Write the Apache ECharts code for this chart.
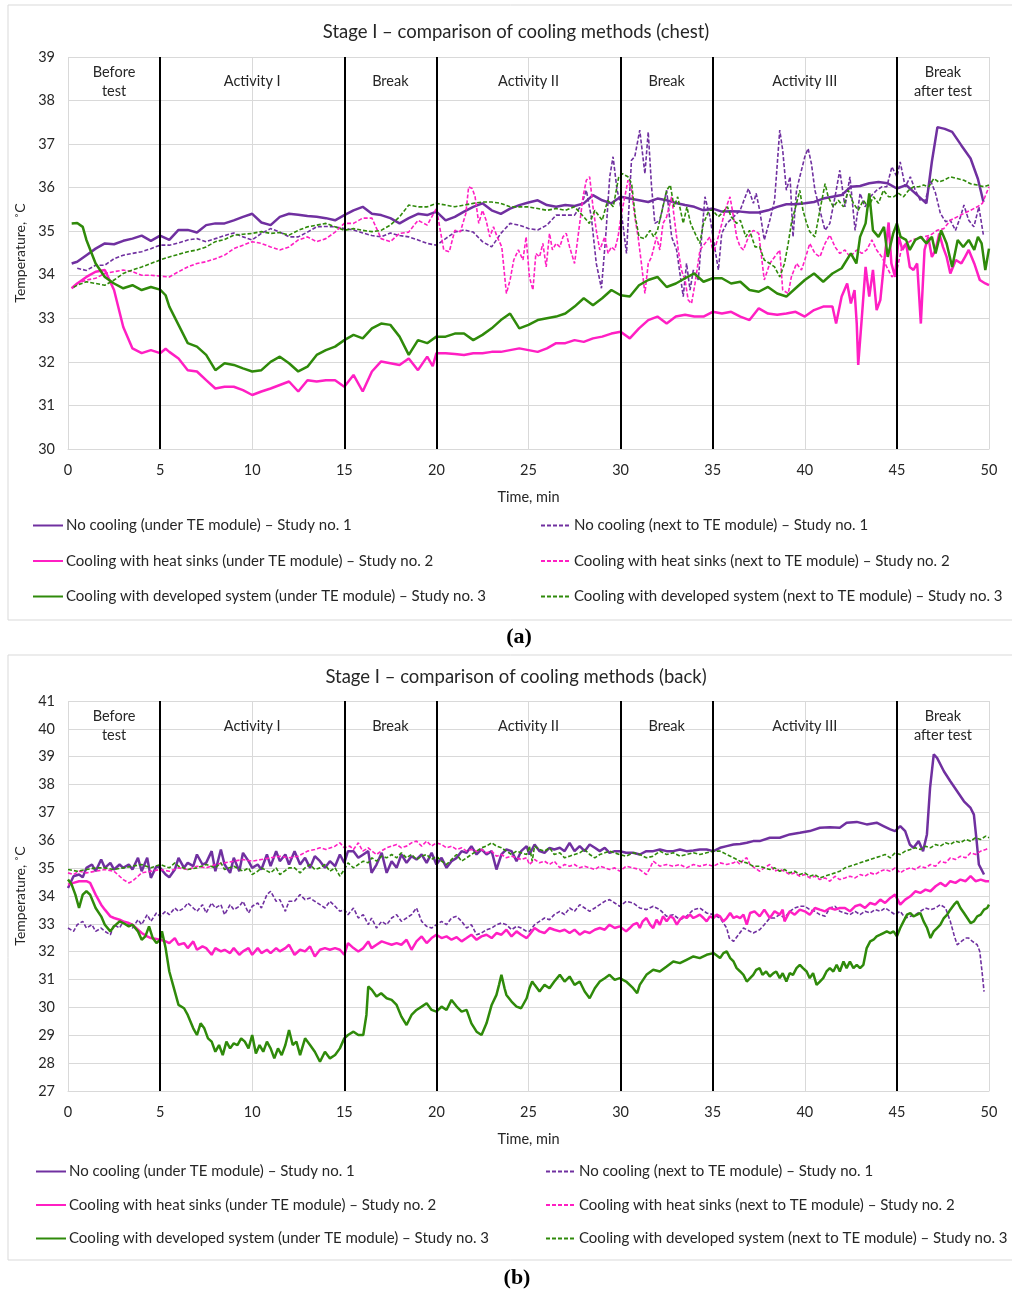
<!DOCTYPE html>
<html>
<head>
<meta charset="utf-8">
<script src="https://cdn.jsdelivr.net/npm/echarts@6/dist/echarts.min.js"></script>
<style>
  html, body { margin: 0; padding: 0; background: #fff; }
  #chart { width: 1012px; height: 1290px; }
</style>
</head>
<body>
<div id="chart"></div>
<script>
// series names
const namesUnder = [
  'No cooling (under TE module) – Study no. 1',
  'Cooling with heat sinks (under TE module) – Study no. 2',
  'Cooling with developed system (under TE module) – Study no. 3'
]
const namesNext = [
  'No cooling (next to TE module) – Study no. 1',
  'Cooling with heat sinks (next to TE module) – Study no. 2',
  'Cooling with developed system (next to TE module) – Study no. 3'
]
const phaseLabels = ['Before\ntest', 'Activity I', 'Break', 'Activity II', 'Break', 'Activity III', 'Break\nafter test']
const phaseBounds = [0, 5, 15, 20, 30, 35, 45, 50]

// (a) chest – [time min, temperature °C]
const chestNoCoolUnder = [[0.2,34.26],[0.5,34.3],[1,34.45],[1.5,34.6],[2,34.72],[2.5,34.7],[3,34.78],[3.5,34.83],[4,34.9],[4.5,34.78],[5,34.9],[5.5,34.8],[6,35.03],[6.5,35.03],[7,34.97],[7.5,35.14],[8,35.18],[8.5,35.18],[9,35.25],[9.5,35.33],[10,35.4],[10.5,35.2],[11,35.14],[11.5,35.33],[12,35.4],[12.5,35.38],[13,35.35],[13.5,35.33],[14,35.3],[14.5,35.25],[15,35.37],[15.5,35.48],[16,35.56],[16.5,35.4],[17,35.37],[17.5,35.3],[18,35.18],[18.5,35.3],[19,35.4],[19.5,35.37],[20,35.45],[20.5,35.25],[21,35.33],[21.5,35.45],[22,35.56],[22.5,35.64],[23,35.48],[23.5,35.4],[24,35.52],[24.5,35.6],[25,35.66],[25.5,35.71],[26,35.6],[26.5,35.56],[27,35.6],[27.5,35.58],[28,35.64],[28.5,35.83],[29,35.71],[29.5,35.64],[30,35.79],[30.5,35.75],[31,35.71],[31.5,35.67],[32,35.75],[32.5,35.71],[33,35.65],[33.5,35.6],[34,35.56],[34.5,35.48],[35,35.52],[35.5,35.45],[36,35.46],[36.5,35.45],[37,35.43],[37.5,35.43],[38,35.48],[38.5,35.56],[39,35.62],[39.5,35.62],[40,35.64],[40.5,35.67],[41,35.75],[41.5,35.79],[42,35.83],[42.5,36.02],[43,36.04],[43.5,36.1],[44,36.13],[44.5,36.1],[45,35.98],[45.5,36.06],[46,35.87],[46.6,35.64],[46.9,36.6],[47.2,37.39],[47.6,37.35],[48,37.28],[48.5,36.97],[49,36.67],[49.4,36.2],[49.7,35.67]]
const chestNoCoolNext = [[0.5,34.15],[1,34.1],[1.5,34.22],[2,34.22],[2.5,34.37],[3,34.45],[3.5,34.49],[4,34.53],[4.5,34.6],[5,34.68],[5.5,34.68],[6,34.73],[6.5,34.8],[7,34.83],[7.5,34.76],[8,34.83],[8.5,34.9],[9,34.96],[9.5,34.87],[10,34.8],[10.5,34.95],[11,35.06],[11.5,34.98],[12,34.87],[12.5,34.87],[13,34.98],[13.5,35.1],[14,35.11],[14.5,35.1],[15,35.06],[15.5,35.03],[16,34.96],[16.5,34.9],[17,34.87],[17.5,34.96],[18,34.9],[18.5,34.87],[19,34.8],[19.5,34.72],[20,34.68],[20.5,34.83],[21,34.98],[21.5,35.03],[22,34.98],[22.5,34.76],[23,34.64],[23.5,34.95],[24,35.18],[24.5,35.14],[25,35.06],[25.5,35.03],[26,35.14],[26.5,35.37],[27,35.37],[27.5,35.37],[27.87,35.6],[28.14,35.94],[28.41,35.33],[28.68,34.26],[28.96,33.69],[29.19,34.87],[29.41,36.25],[29.59,36.71],[29.81,35.94],[29.95,35.71],[30.14,35.1],[30.32,34.49],[30.59,36.63],[30.77,36.71],[31.04,37.32],[31.32,36.32],[31.5,37.28],[31.68,36.02],[31.86,35.18],[32.13,35.25],[32.5,35.94],[32.77,34.87],[33.04,34.57],[33.4,33.5],[33.58,34.26],[33.77,33.65],[33.95,34.11],[34.22,33.88],[34.4,34.87],[34.58,35.79],[34.85,35.33],[35.13,34.57],[35.31,34.11],[35.49,34.95],[35.76,35.18],[36.13,35.33],[36.49,35.48],[36.94,35.98],[37.21,35.64],[37.36,35.87],[37.55,35.48],[37.8,34.8],[38.1,35.25],[38.36,35.71],[38.64,37.32],[38.8,36.86],[39,35.94],[39.2,36.25],[39.36,34.87],[39.55,35.94],[39.73,36.25],[40,36.71],[40.18,36.9],[40.36,36.55],[40.55,35.94],[40.82,35.48],[41.1,35.02],[41.36,35.18],[41.64,35.79],[41.9,36.4],[42.18,35.56],[42.45,36.25],[42.73,35.02],[43,35.87],[43.27,35.56],[43.55,35.79],[43.9,35.94],[44.18,36.02],[44.45,36.02],[44.73,36.48],[45,36.25],[45.18,36.59],[45.45,36.02],[45.73,36.25],[46,35.94],[46.27,35.71],[46.55,35.71],[46.82,36.17],[47.1,35.87],[47.36,35.41],[47.64,35.22],[47.9,35.25],[48.18,35.02],[48.45,35.33],[48.64,35.6],[48.9,35.25],[49.18,35.1],[49.45,35.56],[49.7,34.9]]
const chestSinkUnder = [[0.2,33.69],[0.5,33.8],[1,33.95],[1.5,34.07],[2,34.11],[2.5,33.65],[3,32.8],[3.5,32.31],[4,32.2],[4.5,32.27],[5,32.2],[5.3,32.3],[5.5,32.23],[6,32.08],[6.5,31.81],[7,31.78],[7.5,31.58],[8,31.39],[8.5,31.43],[9,31.43],[9.5,31.35],[10,31.24],[10.5,31.32],[11,31.39],[11.5,31.47],[12,31.55],[12.5,31.32],[13,31.58],[13.5,31.55],[14,31.58],[14.5,31.58],[15,31.43],[15.5,31.7],[16,31.32],[16.5,31.78],[17,32.01],[17.5,31.97],[18,31.93],[18.5,32.08],[19,31.81],[19.5,32.12],[19.8,31.9],[20,32.2],[20.5,32.2],[21,32.18],[21.5,32.16],[22,32.2],[22.5,32.2],[23,32.23],[23.5,32.23],[24,32.27],[24.5,32.31],[25,32.27],[25.5,32.23],[26,32.31],[26.5,32.43],[27,32.43],[27.5,32.5],[28,32.46],[28.5,32.54],[29,32.58],[29.5,32.65],[30,32.69],[30.5,32.54],[31,32.77],[31.5,32.96],[32,33.04],[32.5,32.88],[33,33.04],[33.5,33.08],[34,33.04],[34.5,33.04],[35,33.15],[35.5,33.11],[36,33.15],[36.5,33.04],[37,32.96],[37.5,33.23],[38,33.11],[38.5,33.08],[39,33.11],[39.5,33.15],[40,33.04],[40.5,33.19],[41,33.27],[41.5,33.27],[41.7,32.88],[42,33.5],[42.3,33.8],[42.5,33.34],[42.7,33.65],[42.82,32.88],[42.9,31.93],[43.1,33.04],[43.3,34.18],[43.5,33.5],[43.7,34.11],[43.9,33.19],[44.1,33.42],[44.3,34.26],[44.55,35.2],[44.7,34.26],[44.9,33.95],[45,34.41],[45.1,34.87],[45.3,34.57],[45.5,34.72],[45.7,34.18],[45.9,34.11],[46.1,34.26],[46.3,32.88],[46.5,34.57],[46.7,34.87],[46.9,34.41],[47.1,34.57],[47.3,34.95],[47.5,34.64],[47.7,34.41],[47.9,34.03],[48.2,34.34],[48.5,34.26],[48.7,34.41],[48.9,34.57],[49.2,34.26],[49.5,33.88],[49.8,33.8],[50,33.76]]
const chestSinkNext = [[0.2,33.69],[0.5,33.8],[1,33.88],[1.5,33.92],[2,34.03],[2.5,34.07],[3,34.11],[3.5,34.07],[4,33.99],[4.5,33.99],[5,33.97],[5.5,33.95],[6,34.07],[6.5,34.18],[7,34.26],[7.5,34.3],[8,34.37],[8.5,34.45],[9,34.6],[9.5,34.68],[10,34.76],[10.5,34.72],[11,34.64],[11.5,34.57],[12,34.64],[12.5,34.8],[13,34.87],[13.5,34.76],[14,34.83],[14.5,34.98],[15,35.18],[15.5,35.18],[16,35.3],[16.5,35.3],[17,34.83],[17.5,34.76],[18,34.95],[18.5,34.98],[19,35.25],[19.5,35.14],[20,35.52],[20.4,34.57],[20.7,34.53],[21,35.02],[21.3,34.99],[21.6,35.41],[21.75,36.02],[21.95,35.98],[22.1,35.79],[22.3,35.18],[22.5,35.48],[22.7,35.25],[22.9,34.87],[23.1,35.1],[23.3,34.87],[23.55,34.64],[23.8,33.57],[24,33.88],[24.2,34.34],[24.45,34.57],[24.7,34.34],[24.87,34.87],[25.05,33.95],[25.24,33.65],[25.4,34.49],[25.6,34.41],[25.78,34.72],[25.96,34.18],[26.14,34.95],[26.3,34.57],[26.5,34.72],[26.7,34.64],[26.87,34.87],[27.05,34.95],[27.23,34.64],[27.5,34.26],[27.78,35.18],[27.96,35.79],[28.14,36.17],[28.32,36.25],[28.5,35.56],[28.68,35.02],[28.87,34.57],[29.14,34.87],[29.32,34.49],[29.5,34.64],[29.68,34.57],[29.86,34.87],[30.05,35.41],[30.23,35.79],[30.4,36.17],[30.6,35.94],[30.77,35.33],[30.95,34.87],[31.13,34.26],[31.32,33.57],[31.5,34.26],[31.68,34.41],[31.95,34.87],[32.13,34.57],[32.3,35.18],[32.5,35.33],[32.77,35.79],[32.95,35.18],[33.13,34.57],[33.3,34.11],[33.5,33.88],[33.67,33.42],[33.85,33.34],[34.04,33.8],[34.31,34.57],[34.58,34.72],[34.85,34.87],[35.04,34.49],[35.3,34.87],[35.5,35.18],[35.67,35.48],[35.94,35.79],[36.13,35.33],[36.3,34.87],[36.49,34.64],[36.67,34.57],[36.94,34.87],[37.2,35.02],[37.5,34.95],[37.8,33.88],[38.1,34.26],[38.36,34.41],[38.64,34.57],[38.8,33.65],[39.1,33.57],[39.27,33.95],[39.55,34.26],[39.82,34.11],[40,34.34],[40.27,34.72],[40.55,34.49],[40.82,34.41],[41.1,34.72],[41.36,34.91],[41.64,34.64],[41.9,34.49],[42.18,34.57],[42.45,34.41],[42.82,34.57],[43.1,34.49],[43.36,34.57],[43.64,34.8],[43.9,34.57],[44.18,34.41],[44.45,34.18],[44.73,33.95],[45,34.11],[45.27,34.64],[45.55,34.72],[45.82,34.8],[46.1,34.83],[46.45,34.87],[46.82,34.91],[47.18,35.02],[47.55,35.06],[47.9,35.25],[48.27,35.33],[48.64,35.41],[49,35.48],[49.36,35.56],[49.64,35.64],[49.82,35.83],[50,36.02]]
const chestDevUnder = [[0.2,35.18],[0.5,35.19],[0.8,35.1],[1,34.8],[1.5,34.26],[2,33.95],[2.5,33.8],[3,33.69],[3.5,33.76],[4,33.65],[4.5,33.72],[5,33.66],[5.3,33.53],[5.5,33.27],[6,32.85],[6.5,32.43],[7,32.35],[7.5,32.16],[8,31.81],[8.5,31.97],[9,31.93],[9.5,31.85],[10,31.78],[10.5,31.81],[11,32.0],[11.5,32.12],[12,31.97],[12.5,31.78],[13,31.89],[13.5,32.16],[14,32.27],[14.5,32.35],[15,32.5],[15.5,32.62],[16,32.54],[16.5,32.77],[17,32.88],[17.5,32.85],[18,32.58],[18.5,32.16],[19,32.5],[19.5,32.43],[20,32.58],[20.5,32.58],[21,32.65],[21.5,32.65],[22,32.5],[22.5,32.62],[23,32.77],[23.5,32.96],[24,33.11],[24.5,32.77],[25,32.85],[25.5,32.96],[26,33.0],[26.5,33.04],[27,33.11],[27.5,33.27],[28,33.46],[28.5,33.3],[29,33.46],[29.5,33.65],[30,33.53],[30.5,33.5],[31,33.76],[31.5,33.88],[32,33.95],[32.5,33.72],[33,33.8],[33.5,33.92],[34,34.03],[34.5,33.84],[35,33.92],[35.5,33.92],[36,33.8],[36.5,33.84],[37,33.65],[37.5,33.61],[38,33.72],[38.5,33.57],[39,33.5],[39.5,33.69],[40,33.88],[40.5,34.03],[41,33.84],[41.5,34.03],[42,34.15],[42.5,34.49],[42.8,34.26],[43,34.87],[43.3,35.18],[43.5,35.87],[43.7,35.02],[44,34.87],[44.3,35.1],[44.5,34.41],[44.8,34.95],[45,35.18],[45.2,34.87],[45.5,34.8],[45.7,34.57],[46,34.8],[46.3,34.87],[46.6,34.72],[46.9,34.87],[47.1,34.49],[47.4,35.02],[47.7,34.72],[48,34.18],[48.3,34.8],[48.6,34.64],[48.9,34.8],[49.2,34.57],[49.4,34.87],[49.6,34.72],[49.8,34.11],[50,34.6]]
const chestDevNext = [[0.3,33.71],[0.5,33.76],[1,33.84],[1.5,33.8],[2,33.76],[2.5,33.88],[3,34.03],[3.5,34.11],[4,34.18],[4.5,34.26],[5,34.34],[5.5,34.41],[6,34.47],[6.5,34.53],[7,34.57],[7.5,34.64],[8,34.76],[8.5,34.81],[9,34.91],[9.5,34.93],[10,34.95],[10.5,34.99],[11,34.95],[11.5,34.97],[12,34.91],[12.5,35.02],[13,35.1],[13.5,35.14],[14,35.18],[14.5,35.1],[15,35.02],[15.5,35.06],[16,35.02],[16.5,34.99],[17,35.02],[17.5,35.14],[18,35.33],[18.5,35.6],[19,35.56],[19.5,35.56],[20,35.64],[20.5,35.6],[21,35.56],[21.5,35.6],[22,35.64],[22.5,35.67],[23,35.67],[23.5,35.64],[24,35.56],[24.5,35.56],[25,35.56],[25.5,35.52],[26,35.48],[26.5,35.52],[27,35.48],[27.5,35.56],[28,35.33],[28.3,35.18],[28.6,35.48],[29,35.25],[29.3,35.71],[29.6,35.56],[29.9,36.25],[30.1,36.32],[30.4,36.25],[30.6,36.09],[30.8,35.33],[31,34.87],[31.3,34.83],[31.6,35.02],[31.8,34.87],[32,35.02],[32.3,35.56],[32.5,35.94],[32.7,36.06],[32.9,35.56],[33.1,35.79],[33.4,35.18],[33.6,35.56],[33.8,35.18],[34,34.99],[34.3,34.72],[34.5,35.18],[34.8,35.48],[35,35.48],[35.3,35.33],[35.5,35.41],[35.8,35.56],[36,35.33],[36.3,35.18],[36.5,35.25],[36.8,34.87],[37,35.02],[37.3,34.64],[37.55,34.64],[37.8,34.34],[38.1,34.26],[38.36,34.18],[38.64,33.95],[38.9,34.26],[39.1,34.72],[39.27,35.18],[39.55,35.64],[39.73,35.94],[39.9,35.48],[40.1,35.18],[40.27,34.99],[40.55,34.87],[40.82,35.48],[41.1,36.09],[41.27,35.79],[41.55,35.56],[41.82,35.71],[42.1,35.56],[42.36,35.94],[42.64,35.64],[42.9,35.48],[43.18,35.71],[43.45,35.56],[43.73,35.79],[44,35.64],[44.27,35.94],[44.55,35.79],[44.82,35.79],[45.09,35.87],[45.36,35.79],[45.64,35.94],[45.9,36.02],[46.18,36.02],[46.45,36.06],[46.73,36.02],[47,36.21],[47.27,36.13],[47.55,36.17],[47.9,36.25],[48.27,36.21],[48.64,36.17],[49,36.09],[49.36,36.06],[49.73,36.02],[50,36.06]]

// (b) back – [time min, temperature °C]
const backNoCoolUnder = [[0,34.29],[0.3,34.71],[0.6,34.77],[0.8,34.67],[1,35.01],[1.3,35.13],[1.5,34.89],[1.8,35.31],[2,35.01],[2.3,35.19],[2.5,34.95],[2.8,35.13],[3,35.01],[3.3,35.13],[3.5,34.95],[3.8,35.37],[4,34.89],[4.3,35.37],[4.5,34.65],[4.8,35.07],[5,35.01],[5.3,34.77],[5.5,34.67],[5.8,34.95],[6,35.37],[6.3,35.01],[6.5,35.19],[6.8,35.07],[7,35.49],[7.3,35.13],[7.5,35.19],[7.8,35.61],[8,34.89],[8.3,35.67],[8.5,35.13],[8.8,34.83],[9,35.37],[9.3,34.89],[9.5,35.55],[9.8,35.25],[10,35.01],[10.3,35.13],[10.5,34.95],[10.8,35.49],[11,35.07],[11.3,35.61],[11.5,35.25],[11.8,35.49],[12,35.13],[12.3,35.61],[12.6,35.13],[12.87,35.37],[13.14,35.01],[13.4,35.43],[13.68,35.25],[13.95,35.01],[14.22,35.25],[14.5,35.07],[14.76,35.49],[15,35.19],[15.2,35.61],[15.5,35.61],[15.76,35.37],[16.03,35.49],[16.3,35.61],[16.48,34.83],[16.75,35.13],[17.03,35.55],[17.3,34.83],[17.57,35.25],[17.84,35.01],[18.1,35.49],[18.38,35.19],[18.65,35.43],[18.92,35.31],[19.2,35.49],[19.47,35.19],[19.74,35.55],[20,35.13],[20.28,35.37],[20.55,35.01],[20.82,35.25],[21.1,35.37],[21.37,35.61],[21.64,35.55],[21.9,35.79],[22.18,35.49],[22.45,35.67],[22.72,35.49],[23,35.61],[23.26,34.95],[23.53,35.49],[23.8,35.67],[24.08,35.61],[24.35,35.25],[24.6,35.61],[24.9,35.79],[25.05,35.49],[25.33,35.85],[25.6,35.61],[25.87,35.55],[26.14,35.73],[26.4,35.67],[26.7,35.73],[26.96,35.61],[27.23,35.91],[27.5,35.61],[27.78,35.79],[28.05,35.61],[28.32,35.85],[28.6,35.73],[28.87,35.61],[29.14,35.73],[29.4,35.55],[29.68,35.61],[29.95,35.61],[30.3,35.55],[30.68,35.55],[31.04,35.49],[31.4,35.61],[31.77,35.61],[32.13,35.67],[32.5,35.61],[32.86,35.61],[33.22,35.67],[33.58,35.61],[33.95,35.63],[34.3,35.67],[34.67,35.67],[35.04,35.61],[35.4,35.73],[35.76,35.79],[36.13,35.85],[36.49,35.87],[36.85,35.91],[37.2,35.97],[37.55,35.97],[38.1,36.09],[38.64,36.09],[39.18,36.21],[39.73,36.27],[40.27,36.33],[40.82,36.45],[41.36,36.47],[41.9,36.45],[42.27,36.63],[42.82,36.66],[43.36,36.57],[43.9,36.63],[44.27,36.51],[44.64,36.39],[44.9,36.33],[45.18,36.51],[45.45,36.33],[45.7,35.85],[45.9,35.73],[46.18,35.97],[46.42,35.61],[46.63,36.21],[46.8,37.88],[47,39.08],[47.18,38.96],[47.55,38.48],[47.9,38.12],[48.27,37.76],[48.64,37.4],[49,37.16],[49.18,36.92],[49.33,35.97],[49.45,35.13],[49.73,34.77]]
const backNoCoolNext = [[0,32.85],[0.3,32.73],[0.5,32.97],[0.8,33.09],[1,32.85],[1.3,32.97],[1.5,32.73],[1.8,32.85],[2,32.73],[2.3,32.61],[2.5,32.97],[2.8,32.85],[3,33.09],[3.3,32.97],[3.5,32.85],[3.8,33.15],[4,32.97],[4.3,33.33],[4.5,33.09],[4.8,33.39],[5,33.27],[5.3,33.45],[5.5,33.33],[5.8,33.57],[6,33.45],[6.3,33.57],[6.5,33.75],[6.8,33.57],[7,33.45],[7.3,33.69],[7.5,33.39],[7.8,33.75],[8,33.57],[8.3,33.69],[8.5,33.33],[8.8,33.69],[9,33.51],[9.3,33.63],[9.5,33.81],[9.8,33.39],[10,33.63],[10.3,33.75],[10.5,33.57],[10.8,34.05],[11,34.17],[11.3,33.81],[11.5,33.87],[11.8,33.45],[12,33.81],[12.3,33.81],[12.6,34.05],[12.87,33.87],[13.14,33.93],[13.4,33.81],[13.68,33.69],[13.95,33.57],[14.22,33.81],[14.5,33.63],[14.76,33.45],[15,33.51],[15.2,33.33],[15.5,33.57],[15.76,33.21],[16.03,33.33],[16.3,32.97],[16.48,33.21],[16.75,32.85],[17.03,33.09],[17.3,32.97],[17.57,33.21],[17.84,33.33],[18.1,33.09],[18.38,33.21],[18.65,33.33],[18.92,33.57],[19.2,33.09],[19.47,32.91],[19.74,32.85],[20,32.97],[20.28,33.09],[20.55,32.97],[20.82,33.21],[21.1,33.27],[21.37,33.09],[21.64,32.85],[21.9,32.97],[22.18,32.61],[22.45,32.67],[22.72,32.79],[23,32.85],[23.26,32.97],[23.53,33.03],[23.8,32.97],[24.08,32.79],[24.35,32.91],[24.6,32.85],[24.9,32.73],[25.05,32.73],[25.33,32.97],[25.6,33.09],[25.87,33.21],[26.14,33.15],[26.4,33.33],[26.7,33.45],[26.96,33.33],[27.23,33.57],[27.5,33.45],[27.78,33.69],[28.05,33.57],[28.32,33.45],[28.6,33.57],[28.87,33.69],[29.14,33.81],[29.4,33.87],[29.68,33.75],[29.95,33.63],[30.3,33.81],[30.68,33.75],[31.04,33.57],[31.4,33.51],[31.77,33.63],[32.13,33.51],[32.5,33.27],[32.86,33.33],[33.22,33.15],[33.58,33.27],[33.95,33.51],[34.3,33.57],[34.67,33.39],[35.04,33.33],[35.4,33.21],[35.76,32.85],[35.9,32.49],[36.13,32.37],[36.4,32.61],[36.67,32.85],[36.85,32.79],[37.2,32.67],[37.55,32.79],[37.8,32.97],[38.1,33.21],[38.36,33.21],[38.64,33.33],[38.9,33.21],[39.18,33.45],[39.45,33.57],[39.73,33.63],[40,33.63],[40.27,33.51],[40.55,33.45],[40.82,33.33],[41.1,33.27],[41.36,33.57],[41.64,33.63],[41.9,33.45],[42.18,33.39],[42.45,33.33],[42.73,33.45],[43,33.33],[43.27,33.45],[43.55,33.39],[43.82,33.51],[44.1,33.45],[44.36,33.57],[44.64,33.45],[44.9,33.33],[45.18,33.45],[45.45,33.21],[45.73,33.27],[46,33.33],[46.27,33.45],[46.55,33.57],[46.82,33.51],[47.1,33.57],[47.36,33.69],[47.64,33.57],[47.9,33.09],[48.1,32.61],[48.27,32.25],[48.5,32.37],[48.73,32.49],[48.9,32.49],[49.1,32.37],[49.36,32.25],[49.5,32.01],[49.64,31.17],[49.73,30.57]]
const backSinkUnder = [[0,34.41],[0.3,34.47],[0.6,34.53],[1,34.53],[1.2,34.47],[1.5,34.05],[1.8,33.69],[2,33.51],[2.3,33.27],[2.5,33.21],[2.8,33.15],[3,33.09],[3.3,33.03],[3.5,32.97],[3.8,32.79],[4,32.67],[4.3,32.55],[4.5,32.49],[4.8,32.46],[5,32.43],[5.3,32.37],[5.5,32.31],[5.8,32.49],[6,32.25],[6.3,32.31],[6.5,32.13],[6.8,32.37],[7,32.07],[7.3,32.19],[7.5,32.13],[7.8,31.89],[8,32.13],[8.3,32.01],[8.5,32.07],[8.8,31.95],[9,32.13],[9.3,31.89],[9.5,32.01],[9.8,32.13],[10,31.89],[10.3,32.13],[10.5,31.95],[10.8,32.07],[11,31.95],[11.3,32.13],[11.5,32.01],[11.8,32.13],[12,32.25],[12.3,31.89],[12.6,32.07],[12.87,32.01],[13.14,32.19],[13.4,31.83],[13.68,32.07],[13.95,32.13],[14.22,32.07],[14.5,32.13],[14.76,32.07],[15,31.89],[15.2,32.31],[15.5,32.13],[15.76,32.01],[16.03,32.13],[16.3,32.37],[16.48,32.13],[16.75,32.25],[17.03,32.37],[17.3,32.31],[17.57,32.25],[17.84,32.31],[18.1,32.25],[18.38,32.43],[18.65,32.07],[18.92,32.37],[19.2,32.55],[19.47,32.31],[19.74,32.49],[20,32.61],[20.28,32.49],[20.55,32.55],[20.82,32.43],[21.1,32.52],[21.37,32.37],[21.64,32.49],[21.9,32.61],[22.18,32.43],[22.45,32.55],[22.72,32.61],[23,32.49],[23.26,32.67],[23.53,32.61],[23.8,32.79],[24.08,32.55],[24.35,32.73],[24.6,32.61],[24.9,32.49],[25.05,32.61],[25.33,32.85],[25.6,32.73],[25.87,32.67],[26.14,32.85],[26.4,32.79],[26.7,32.73],[26.96,32.79],[27.23,32.67],[27.5,32.79],[27.78,32.61],[28.05,32.73],[28.32,32.67],[28.6,32.79],[28.87,32.85],[29.14,32.79],[29.4,32.97],[29.68,32.85],[29.95,32.91],[30.3,32.73],[30.5,32.85],[30.68,32.97],[30.9,33.03],[31.04,32.85],[31.2,33.09],[31.4,33.21],[31.6,32.97],[31.77,32.85],[31.95,33.15],[32.13,32.97],[32.3,33.27],[32.5,33.09],[32.7,33.27],[32.86,33.21],[33.05,32.97],[33.22,33.15],[33.4,33.27],[33.58,33.21],[33.77,33.33],[33.95,33.21],[34.13,33.27],[34.3,33.33],[34.5,33.21],[34.67,33.09],[34.85,33.27],[35.04,33.21],[35.22,33.33],[35.4,33.27],[35.58,33.09],[35.76,33.21],[35.95,33.39],[36.13,33.21],[36.3,33.27],[36.49,33.21],[36.67,33.33],[36.85,32.97],[37.03,33.39],[37.27,33.45],[37.55,33.27],[37.8,33.51],[38.1,33.21],[38.36,33.45],[38.64,33.33],[38.8,33.51],[38.9,33.09],[39.18,33.45],[39.45,33.33],[39.73,33.51],[40,33.45],[40.27,33.33],[40.55,33.57],[40.82,33.51],[41.1,33.45],[41.36,33.57],[41.64,33.51],[41.9,33.57],[42.18,33.57],[42.45,33.45],[42.73,33.63],[43,33.69],[43.27,33.57],[43.55,33.75],[43.82,33.69],[44.1,33.87],[44.36,33.75],[44.64,33.93],[44.9,34.05],[45.18,33.69],[45.45,33.87],[45.73,33.99],[46,34.17],[46.27,34.11],[46.55,34.23],[46.82,34.17],[47.1,34.35],[47.36,34.47],[47.64,34.35],[47.9,34.53],[48.18,34.47],[48.45,34.59],[48.73,34.53],[49,34.71],[49.27,34.53],[49.55,34.59],[49.82,34.53],[50,34.53]]
const backSinkNext = [[0,34.83],[0.3,34.77],[0.6,34.89],[1,34.83],[1.5,34.89],[2,34.95],[2.5,34.89],[2.8,34.71],[3,34.59],[3.3,34.47],[3.5,34.53],[3.8,34.71],[4,34.83],[4.5,34.89],[5,34.95],[5.5,34.89],[6,35.01],[6.5,34.95],[7,35.07],[7.5,35.01],[8,35.13],[8.5,35.19],[9,35.25],[9.5,35.31],[10,35.25],[10.5,35.31],[11,35.37],[11.5,35.43],[12,35.37],[12.5,35.43],[13,35.61],[13.4,35.67],[13.68,35.73],[14,35.67],[14.5,35.79],[14.76,35.91],[15,35.73],[15.3,35.79],[15.5,35.67],[15.76,35.91],[16,35.61],[16.3,35.73],[16.5,35.61],[16.75,35.49],[17,35.61],[17.3,35.73],[17.57,35.79],[17.84,35.85],[18.1,35.73],[18.38,35.79],[18.65,35.91],[18.92,35.97],[19.2,35.79],[19.47,35.97],[19.74,35.79],[20,35.91],[20.28,35.85],[20.55,35.73],[20.82,35.79],[21.1,35.67],[21.37,35.73],[21.64,35.61],[21.9,35.67],[22.18,35.61],[22.45,35.67],[22.72,35.55],[23,35.61],[23.26,35.43],[23.53,35.49],[23.8,35.37],[24.08,35.43],[24.35,35.37],[24.6,35.31],[24.9,35.37],[25.05,35.13],[25.33,35.31],[25.6,35.19],[25.87,35.25],[26.14,35.13],[26.4,35.25],[26.7,35.01],[26.96,35.13],[27.23,35.07],[27.5,35.13],[27.78,35.01],[28.05,35.07],[28.32,35.01],[28.6,34.95],[28.87,35.07],[29.14,35.01],[29.4,34.95],[29.68,35.01],[29.95,34.89],[30.3,35.07],[30.68,35.01],[31.04,34.95],[31.4,34.77],[31.6,35.01],[31.77,35.25],[32.13,35.07],[32.5,35.13],[32.86,35.07],[33.22,35.13],[33.58,35.01],[33.95,35.13],[34.3,35.07],[34.67,35.13],[35.04,35.07],[35.4,35.19],[35.76,35.13],[36.13,35.19],[36.3,35.25],[36.49,35.13],[36.67,35.31],[36.85,35.37],[37.03,35.13],[37.27,35.01],[37.55,34.89],[37.8,35.01],[38.1,35.13],[38.36,34.89],[38.64,34.95],[38.9,34.89],[39.18,34.77],[39.45,34.83],[39.73,34.71],[40,34.77],[40.27,34.65],[40.55,34.71],[40.82,34.59],[41.1,34.65],[41.36,34.53],[41.64,34.71],[41.9,34.59],[42.18,34.65],[42.45,34.71],[42.73,34.65],[43,34.77],[43.27,34.71],[43.55,34.83],[43.82,34.77],[44.1,34.89],[44.36,34.95],[44.64,34.89],[44.9,35.01],[45.18,34.83],[45.45,34.95],[45.73,35.01],[46,34.95],[46.27,35.07],[46.55,35.01],[46.82,35.13],[47.1,35.07],[47.36,35.25],[47.64,35.19],[47.9,35.37],[48.18,35.31],[48.45,35.43],[48.73,35.37],[49,35.55],[49.27,35.49],[49.55,35.61],[49.82,35.67],[50,35.73]]
const backDevUnder = [[0,34.59],[0.2,34.41],[0.4,34.05],[0.6,33.57],[0.8,34.05],[1,34.17],[1.2,34.05],[1.5,33.57],[1.8,33.27],[2,32.97],[2.3,32.73],[2.5,32.91],[2.8,33.09],[3,33.03],[3.3,32.91],[3.5,32.97],[3.8,32.73],[4,32.43],[4.2,32.55],[4.4,32.91],[4.6,32.49],[4.8,32.31],[5,32.43],[5.1,32.73],[5.3,32.13],[5.5,31.29],[5.7,30.81],[6,30.09],[6.3,29.97],[6.5,29.73],[6.8,29.25],[7,29.01],[7.2,29.43],[7.4,29.25],[7.6,28.89],[7.8,28.77],[8,28.41],[8.2,28.65],[8.4,28.29],[8.6,28.77],[8.8,28.53],[9,28.71],[9.2,28.65],[9.4,28.89],[9.6,28.77],[9.8,28.53],[10,29.01],[10.2,28.35],[10.4,28.65],[10.6,28.41],[10.8,28.77],[11,28.53],[11.2,28.17],[11.4,28.53],[11.6,28.29],[11.8,28.65],[12,29.19],[12.2,28.65],[12.4,28.77],[12.6,28.29],[12.87,28.89],[13.14,28.65],[13.4,28.41],[13.68,28.05],[13.95,28.41],[14.22,28.17],[14.5,28.29],[14.76,28.53],[15,28.89],[15.2,29.01],[15.5,29.13],[15.76,29.01],[16.03,29.01],[16.2,29.73],[16.3,30.75],[16.5,30.63],[16.75,30.39],[17,30.51],[17.3,30.33],[17.57,30.27],[17.84,30.09],[18.1,29.67],[18.38,29.37],[18.65,29.73],[18.92,29.91],[19.2,30.03],[19.47,30.15],[19.74,29.91],[20,29.85],[20.28,30.03],[20.55,29.91],[20.82,30.27],[21.1,30.03],[21.37,29.85],[21.64,29.91],[21.9,29.43],[22.18,29.13],[22.45,29.01],[22.72,29.43],[23,30.09],[23.26,30.45],[23.4,30.81],[23.53,31.17],[23.7,30.69],[23.8,30.45],[24.08,30.21],[24.35,30.03],[24.6,29.97],[24.9,30.33],[25.05,30.69],[25.2,30.93],[25.33,30.81],[25.6,30.57],[25.87,30.81],[26.14,30.69],[26.4,30.93],[26.7,31.17],[26.96,30.93],[27.23,31.11],[27.5,30.81],[27.78,30.93],[28.05,30.57],[28.32,30.33],[28.6,30.69],[28.87,30.93],[29.14,31.05],[29.4,31.17],[29.68,30.99],[29.95,31.05],[30.3,30.93],[30.68,30.69],[30.9,30.51],[31.04,30.81],[31.4,31.17],[31.77,31.35],[32.13,31.29],[32.5,31.47],[32.86,31.65],[33.22,31.59],[33.58,31.71],[33.95,31.83],[34.3,31.77],[34.67,31.89],[35.04,31.95],[35.4,31.77],[35.58,31.95],[35.76,32.01],[35.95,31.77],[36.13,31.65],[36.3,31.41],[36.49,31.29],[36.67,31.17],[36.85,30.93],[37.03,31.05],[37.2,31.17],[37.36,31.35],[37.55,31.41],[37.7,31.17],[37.9,31.29],[38.1,31.11],[38.3,31.23],[38.45,31.29],[38.64,31.05],[38.8,31.23],[39,30.93],[39.18,31.23],[39.36,31.17],[39.55,31.41],[39.73,31.53],[39.9,31.41],[40.1,31.29],[40.27,31.05],[40.45,31.23],[40.64,30.81],[40.82,30.93],[41,31.05],[41.18,31.29],[41.36,31.41],[41.55,31.29],[41.73,31.53],[41.9,31.29],[42.1,31.65],[42.27,31.41],[42.45,31.65],[42.64,31.41],[42.82,31.53],[43,31.41],[43.18,31.53],[43.36,32.13],[43.55,32.37],[43.73,32.43],[43.9,32.55],[44.1,32.61],[44.27,32.67],[44.45,32.73],[44.64,32.67],[44.82,32.73],[45,32.55],[45.18,32.85],[45.36,33.09],[45.55,33.33],[45.73,33.39],[45.9,33.27],[46.1,33.33],[46.27,33.39],[46.45,33.09],[46.64,32.85],[46.82,32.49],[47,32.73],[47.18,32.85],[47.36,32.97],[47.55,33.21],[47.73,33.33],[47.9,33.51],[48.1,33.69],[48.27,33.81],[48.45,33.57],[48.64,33.39],[48.82,33.21],[49,33.03],[49.18,33.09],[49.36,33.27],[49.55,33.33],[49.73,33.51],[49.9,33.57],[50,33.69]]
const backDevNext = [[0,34.95],[0.5,34.89],[1,34.95],[1.5,35.01],[2,35.01],[2.5,34.95],[3,35.01],[3.5,35.07],[4,35.13],[4.5,35.01],[5,35.13],[5.5,35.01],[5.8,35.19],[6,35.07],[6.5,34.95],[7,35.01],[7.5,35.13],[8,35.01],[8.3,35.19],[8.5,34.95],[9,35.07],[9.5,34.89],[9.8,35.01],[10,34.77],[10.3,34.89],[10.5,35.01],[11,34.83],[11.3,35.01],[11.5,34.77],[12,35.01],[12.3,35.01],[12.6,34.83],[12.87,35.01],[13.14,35.13],[13.4,34.95],[13.68,35.01],[13.95,35.13],[14.22,34.89],[14.5,35.01],[14.76,34.71],[15,34.95],[15.2,35.19],[15.5,35.01],[15.76,35.13],[16.03,35.25],[16.3,35.19],[16.5,35.37],[16.75,35.25],[17.03,35.43],[17.3,35.37],[17.57,35.49],[17.84,35.37],[18.1,35.55],[18.38,35.37],[18.65,35.49],[18.92,35.31],[19.2,35.43],[19.47,35.49],[19.74,35.31],[20,35.43],[20.28,35.25],[20.55,35.13],[20.82,35.31],[21.1,35.49],[21.37,35.25],[21.64,35.37],[21.9,35.49],[22.18,35.61],[22.45,35.73],[22.72,35.79],[23,35.91],[23.26,35.79],[23.53,35.73],[23.8,35.61],[24.08,35.49],[24.35,35.61],[24.6,35.55],[24.9,35.49],[25.05,35.79],[25.2,35.25],[25.33,35.79],[25.6,35.67],[25.87,35.61],[26.14,35.73],[26.4,35.49],[26.7,35.55],[26.96,35.37],[27.23,35.43],[27.5,35.49],[27.78,35.55],[28.05,35.67],[28.32,35.49],[28.6,35.37],[28.87,35.49],[29.14,35.55],[29.4,35.61],[29.68,35.55],[29.95,35.49],[30.3,35.43],[30.68,35.55],[31.04,35.49],[31.4,35.37],[31.77,35.43],[32.13,35.61],[32.5,35.49],[32.86,35.55],[33.22,35.43],[33.58,35.49],[33.95,35.55],[34.3,35.49],[34.67,35.55],[35.04,35.61],[35.4,35.61],[35.76,35.49],[36.13,35.37],[36.49,35.25],[36.85,35.19],[37.2,35.07],[37.55,35.07],[37.8,35.01],[38.1,34.95],[38.36,35.01],[38.64,34.89],[38.9,34.95],[39.18,34.83],[39.45,34.89],[39.73,34.77],[40,34.83],[40.27,34.71],[40.55,34.77],[40.82,34.65],[41.1,34.71],[41.36,34.77],[41.64,34.83],[41.9,34.89],[42.18,35.01],[42.45,35.07],[42.73,35.13],[43,35.19],[43.27,35.25],[43.55,35.31],[43.82,35.37],[44.1,35.43],[44.36,35.49],[44.64,35.37],[44.9,35.55],[45.18,35.49],[45.45,35.61],[45.73,35.67],[46,35.73],[46.27,35.67],[46.55,35.79],[46.82,35.73],[47.1,35.85],[47.36,35.79],[47.64,35.91],[47.9,35.85],[48.18,35.97],[48.45,35.91],[48.73,36.03],[49,35.97],[49.27,36.09],[49.55,36.03],[49.82,36.15],[50,36.09]]

const colors = ['#7030a0', '#ff1fc3', '#2f8a0a']
const FONT = 'Lato, "Open Sans", sans-serif'
const TXT = '#262626'
const GRIDLINE = '#d9d9d9'

const chart = echarts.init(document.getElementById('chart'), null, {renderer: 'canvas'})

// 时间阶段标签 + 竖线, 挂在每个面板的第一条曲线上
const phaseMarks = (yTop, yBottom) => ({
  markArea: {
    silent: true,
    itemStyle: {color: 'rgba(0,0,0,0)'},
    label: {show: true, position: 'inside', color: TXT, fontSize: 14.5, lineHeight: 19, fontFamily: FONT},
    data: phaseLabels.map((name, i) => [
      {name, xAxis: phaseBounds[i], yAxis: yTop},
      {xAxis: phaseBounds[i + 1], yAxis: yBottom}
    ])
  },
  markLine: {
    silent: true,
    symbol: 'none',
    label: {show: false},
    lineStyle: {color: '#000', width: 2, type: 'solid'},
    data: phaseBounds.slice(1, -1).map(x => ({xAxis: x}))
  }
})

const makeSeries = (idx, under, next, yTop, yBottom) => {
  const out = []
  for (let i = 0; i < 3; i++) {
    out.push({
      name: namesUnder[i], type: 'line', xAxisIndex: idx, yAxisIndex: idx,
      data: under[i], symbol: 'none', z: 3,
      lineStyle: {color: colors[i], width: 2.5},
      itemStyle: {color: colors[i]},
      ...(i === 0 ? phaseMarks(yTop, yBottom) : {})
    })
    out.push({
      name: namesNext[i], type: 'line', xAxisIndex: idx, yAxisIndex: idx,
      data: next[i], symbol: 'none', z: 3,
      lineStyle: {color: colors[i], width: 1.6, type: [4, 2]},
      itemStyle: {color: colors[i]}
    })
  }
  return out
}

const xAxisOf = (idx) => ({
  type: 'value', gridIndex: idx, min: 0, max: 50, interval: 5,
  name: 'Time, min', nameLocation: 'middle', nameGap: 41,
  nameTextStyle: {color: TXT, fontSize: 14.5, fontFamily: FONT},
  axisLine: {show: true, lineStyle: {color: GRIDLINE}},
  axisTick: {show: false},
  axisLabel: {color: TXT, fontSize: 14.5, margin: 14, fontFamily: FONT},
  splitLine: {show: true, lineStyle: {color: GRIDLINE, width: 1}}
})
const yAxisOf = (idx, min, max) => ({
  type: 'value', gridIndex: idx, min, max, interval: 1,
  name: 'Temperature, ˚C', nameLocation: 'middle', nameGap: 35, nameRotate: 90,
  nameTextStyle: {color: TXT, fontSize: 14, fontFamily: FONT},
  axisLine: {show: false},
  axisTick: {show: false},
  axisLabel: {color: TXT, fontSize: 14.5, margin: 13, fontFamily: FONT},
  splitLine: {show: true, lineStyle: {color: GRIDLINE, width: 1}}
})

// 图例: 两列, 只画线不画点
const legendOf = (left, top, gap, names) => ({
  orient: 'vertical', left, top, padding: 0, itemGap: gap, itemWidth: 30, itemHeight: 14,
  selectedMode: false, data: names,
  itemStyle: {opacity: 0},
  textStyle: {color: TXT, fontSize: 15, lineHeight: 14, fontFamily: FONT, padding: [0, 0, 0, -2]}
})

const option = {
  animation: false,
  backgroundColor: '#fff',
  textStyle: {fontFamily: FONT},
  graphic: [
    {type: 'rect', shape: {x: 8, y: 5, width: 1010, height: 615}, style: {fill: 'none', stroke: '#d9d9d9', lineWidth: 1}},
    {type: 'rect', shape: {x: 8, y: 655, width: 1010, height: 605}, style: {fill: 'none', stroke: '#d9d9d9', lineWidth: 1}},
    {type: 'text', x: 516, y: 32, style: {text: 'Stage I – comparison of cooling methods (chest)', fill: TXT, font: '18.5px ' + FONT, textAlign: 'center', textVerticalAlign: 'middle'}},
    {type: 'text', x: 516, y: 677, style: {text: 'Stage I – comparison of cooling methods (back)', fill: TXT, font: '18.5px ' + FONT, textAlign: 'center', textVerticalAlign: 'middle'}},
    {type: 'text', x: 519, y: 637, style: {text: '(a)', fill: '#000', font: 'bold 22px "Liberation Serif", serif', textAlign: 'center', textVerticalAlign: 'middle'}},
    {type: 'text', x: 517, y: 1278, style: {text: '(b)', fill: '#000', font: 'bold 22px "Liberation Serif", serif', textAlign: 'center', textVerticalAlign: 'middle'}}
  ],
  grid: [
    {left: 68, right: 23, top: 57, height: 392},
    {left: 68, right: 23, top: 701, height: 390}
  ],
  xAxis: [xAxisOf(0), xAxisOf(1)],
  yAxis: [yAxisOf(0, 30, 39), yAxisOf(1, 27, 41)],
  legend: [
    legendOf(32, 518, 20.5, namesUnder),
    legendOf(540, 518, 20.5, namesNext),
    legendOf(35, 1164, 18.5, namesUnder),
    legendOf(545, 1164, 18.5, namesNext)
  ],
  series: [
    ...makeSeries(0,
      [chestNoCoolUnder, chestSinkUnder, chestDevUnder],
      [chestNoCoolNext, chestSinkNext, chestDevNext], 39, 37.875),
    ...makeSeries(1,
      [backNoCoolUnder, backSinkUnder, backDevUnder],
      [backNoCoolNext, backSinkNext, backDevNext], 41, 39.2)
  ]
}

chart.setOption(option)
</script>
</body>
</html>
